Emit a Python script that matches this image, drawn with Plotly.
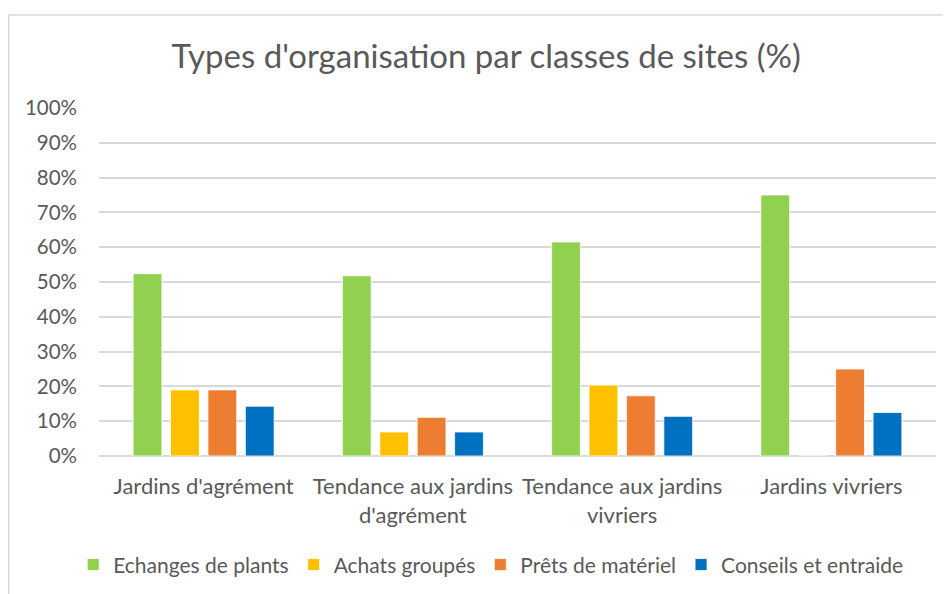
import plotly.graph_objects as go

categories = ["Jardins d'agrément", "Tendance aux jardins<br>d'agrément",
              "Tendance aux jardins<br>vivriers", "Jardins vivriers"]
series_names = ["Echanges de plants", "Achats groupés", "Prêts de matériel", "Conseils et entraide"]
echanges = [52.4, 51.8, 61.5, 75.0]
achats = [19.0, 6.9, 20.4, 0.0]
prets = [19.0, 11.1, 17.3, 25.0]
conseils = [14.3, 6.9, 11.4, 12.5]
colors = ["#92D050", "#FFC000", "#ED7D31", "#0070C0"]
y_ticks = list(range(0, 101, 10))

FONT = "Lato, Carlito, Calibri, sans-serif"
fig = go.Figure()
for name, vals, col in zip(series_names, [echanges, achats, prets, conseils], colors):
    fig.add_trace(go.Bar(name=name, x=categories, y=vals, marker_color=col,
                         marker_line_color="white", marker_line_width=0.8))

fig.update_layout(
    width=943, height=586,
    margin=dict(l=91, r=15, t=100, b=138, autoexpand=False),
    paper_bgcolor="white", plot_bgcolor="white",
    barmode="group", bargap=0.285, bargroupgap=0.23,
    title=dict(text="Types d'organisation par classes de sites (%)", x=0.507, xanchor="center",
               y=0.918, yanchor="middle", font=dict(family=FONT, size=33, color="#595959")),
    font=dict(family=FONT, color="#595959"),
    legend=dict(orientation="h", x=0.468, xanchor="center", y=-0.313, yanchor="middle",
                font=dict(size=21, color="#595959"), itemwidth=30, traceorder="normal"),
    showlegend=True,
)
fig.update_yaxes(range=[0, 100], tickvals=y_ticks, ticktext=[f"{v}%" for v in y_ticks],
                 showgrid=True, gridcolor="#D9D9D9", gridwidth=1.5, zeroline=True,
                 zerolinecolor="#D9D9D9", zerolinewidth=1.5, showline=False, automargin=False,
                 tickfont=dict(size=20.5, color="#595959"), ticks="", ticklabelstandoff=21)
fig.update_xaxes(showline=False, ticks="", tickfont=dict(size=22, color="#595959"),
                 tickangle=0, ticklabelstandoff=15, automargin=False)

fig.add_shape(type="rect", xref="paper", yref="paper", x0=(0.8 - 91) / 837, x1=1.2,
              y0=-0.6, y1=(448 - 7) / 348, line=dict(color="#D9D9D9", width=1.5),
              fillcolor="rgba(0,0,0,0)", layer="below")

fig.write_html("out.html")
